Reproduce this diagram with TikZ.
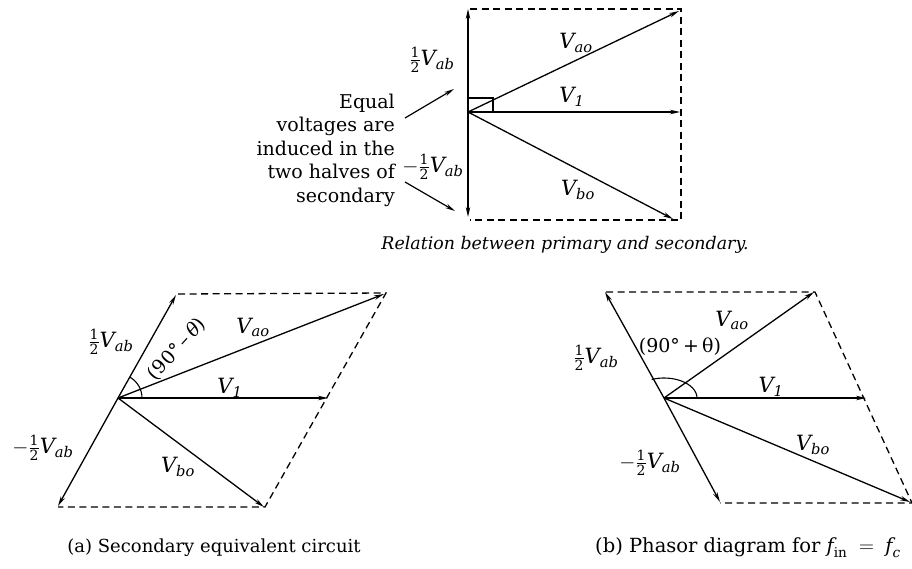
\documentclass[tikz,border=0pt]{standalone}
\usepackage{amsmath}
\usepackage{fontspec}
\newfontfamily\dvs{DejaVu Serif}
\newcommand{\vv}[2]{\text{\dvs\itshape #1}_{\text{\dvs\itshape #2}}}
\newcommand{\hf}{\genfrac{}{}{0.8pt}{1}{\hbox{\fontsize{14}{14}\selectfont\dvs 1}}{\hbox{\fontsize{14}{14}\selectfont\dvs 2}}}
\usetikzlibrary{arrows.meta}
\begin{document}
\begin{tikzpicture}[x=1pt,y=-1pt,
  vec/.style={line width=1.3pt,-{Stealth[length=10pt,width=4.5pt]}},
  dsh/.style={line width=1.3pt,dash pattern=on 7pt off 4.5pt},
  thinln/.style={line width=1.1pt},
  lbl/.style={inner sep=0pt,font=\fontsize{21}{24}\selectfont\dvs},
  angl/.style={inner sep=0pt,font=\fontsize{19}{23}\selectfont\dvs},
  txt/.style={inner sep=0pt,font=\fontsize{19}{23.5}\selectfont\dvs},
  captxt/.style={inner sep=0pt,font=\fontsize{18}{21}\selectfont\dvs}]
\useasboundingbox (0,0) rectangle (912,568);
% ---------- top diagram ----------
\coordinate (O1) at (468,112);
\coordinate (U1) at (468,9);
\coordinate (D1) at (468,217);
\coordinate (A1) at (679,11);
\coordinate (P1) at (680,112);
\coordinate (B1) at (673,219);
\coordinate (R1tl) at (470,9);
\coordinate (R1tr) at (681,9);
\coordinate (R1br) at (681,220);
\coordinate (R1bl) at (470,220);
\draw[dsh] (R1tl) -- (R1tr) -- (R1br) -- (R1bl);
\draw[vec] (O1) -- (U1);
\draw[vec] (O1) -- (D1);
\draw[vec] (O1) -- (A1);
\draw[vec] (O1) -- (P1);
\draw[vec] (O1) -- (B1);
\draw[thinln] (468,98) -- (493,98) -- (493,112);
\node[lbl] (la1) at (576,43) {$\vv{V}{ao}$};
\node[lbl] (lp1) at (572,97) {$\vv{V}{1}$};
\node[lbl] (lb1) at (578,190) {$\vv{V}{bo}$};
\node[lbl] (lu1) at (432,60) {$\hf\vv{V}{ab}$};
\node[lbl] (ld1) at (433,167) {$-\hf\vv{V}{ab}$};
\node[txt,align=right,anchor=east] (eq) at (395,150) {Equal\\voltages are\\induced in the\\two halves of\\secondary};
\coordinate (e1s) at (405,118);
\coordinate (e1e) at (454,89);
\coordinate (e2s) at (405,182);
\coordinate (e2e) at (455,211);
\draw[vec,line width=1.2pt] (e1s) -- (e1e);
\draw[vec,line width=1.2pt] (e2s) -- (e2e);
\node[txt,font=\fontsize{17.4}{23}\selectfont\dvs\itshape] (cap1) at (565,245) {Relation between primary and secondary.};
% ---------- (a) ----------
\coordinate (O2) at (118,398);
\coordinate (U2) at (176,295);
\coordinate (D2) at (58,506);
\coordinate (A2) at (384,294);
\coordinate (P2) at (328,398);
\coordinate (B2) at (264,507);
\coordinate (R2tl) at (178,294);
\coordinate (R2tr) at (386,293);
\coordinate (R2br) at (265,507);
\coordinate (R2bl) at (58,507);
\draw[dsh] (R2tl) -- (R2tr) -- (R2br) -- (R2bl);
\draw[vec] (O2) -- (U2);
\draw[vec] (O2) -- (D2);
\draw[vec] (O2) -- (A2);
\draw[vec] (O2) -- (P2);
\draw[vec] (O2) -- (B2);
\draw[thinln] (O2) ++(24,0) arc[start angle=0,end angle=-60,radius=24];
\node[lbl] (lu2) at (111,342) {$\hf\vv{V}{ab}$};
\node[lbl] (ld2) at (43,448) {$-\hf\vv{V}{ab}$};
\node[lbl] (la2) at (253,327) {$\vv{V}{ao}$};
\node[lbl] (lp2) at (230,388) {$\vv{V}{1}$};
\node[lbl] (lb2) at (178,467) {$\vv{V}{bo}$};
\node[angl,rotate=48] (th2) at (177,349) {(90°\,–\,\textit{θ})};
\node[captxt] (cap2) at (214,548) {(a) Secondary equivalent circuit};
% ---------- (b) ----------
\coordinate (O3) at (664,398);
\coordinate (U3) at (605,292);
\coordinate (D3) at (720,502);
\coordinate (A3) at (814,292);
\coordinate (P3) at (866,398);
\coordinate (B3) at (910,502);
\coordinate (R3tl) at (606,292);
\coordinate (R3tr) at (815,292);
\coordinate (R3br) at (912,503);
\coordinate (R3bl) at (720,503);
\draw[dsh] (R3tl) -- (R3tr) -- (R3br) -- (R3bl);
\draw[vec] (O3) -- (U3);
\draw[vec] (O3) -- (D3);
\draw[vec] (O3) -- (A3);
\draw[vec] (O3) -- (P3);
\draw[vec] (O3) -- (B3);
\draw[thinln] (O3) ++(33,0) arc[start angle=0,end angle=-112,x radius=33,y radius=20];
\node[lbl] (lu3) at (596,358) {$\hf\vv{V}{ab}$};
\node[lbl] (ld3) at (650,463) {$-\hf\vv{V}{ab}$};
\node[lbl] (la3) at (732,320) {$\vv{V}{ao}$};
\node[lbl] (lp3) at (771,387) {$\vv{V}{1}$};
\node[lbl] (lb3) at (813,445) {$\vv{V}{bo}$};
\node[angl] (th3) at (680,347) {(90°\,+\,θ)};
\node[captxt,font=\fontsize{19.5}{22}\selectfont\dvs] (cap3) at (748,548) {(b) Phasor diagram for $\text{\dvs\itshape f}_{\text{\dvs in}} \;=\; \vv{f}{c}$};
\end{tikzpicture}
\end{document}
